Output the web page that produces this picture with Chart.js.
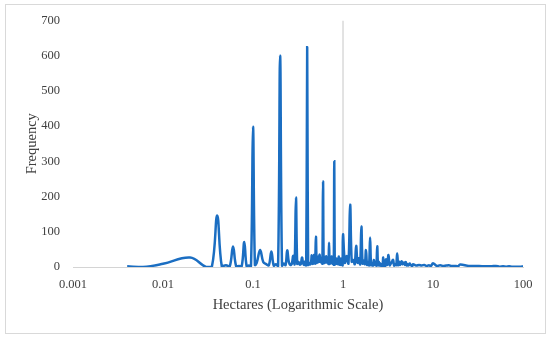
<!DOCTYPE html>
<html>
<head>
<meta charset="utf-8">
<script src="https://cdn.jsdelivr.net/npm/chart.js@4/dist/chart.umd.min.js"></script>
<style>
  html, body { margin: 0; padding: 0; background: #ffffff; }
  #frame { position: absolute; left: 5px; top: 4px; width: 539px; height: 328px; border: 1px solid #d9d9d9; }
  #c { position: absolute; left: 0; top: 0; }
</style>
</head>
<body>
<div id="frame"></div>
<canvas id="c" width="550" height="338"></canvas>
<script>
// ---- Data ----
const smallHectares = [0.004, 0.006, 0.01, 0.02, 0.03, 0.035];
const smallFrequency = [2, 0, 9, 27, 0, 2];

const fineHectares = [
  0.040,0.045,0.050,0.055,0.060,0.065,0.070,0.075,0.080,0.085,0.090,0.095,0.100,0.105
];
const fineFrequency = [
  146,2,5,1,58,2,3,3,71,2,4,3,398,6
];

const hundredthHectares = [
  0.11,0.12,0.13,0.14,0.15,0.16,0.17,0.18,0.19,
  0.20,0.21,0.22,0.23,0.24,0.25,0.26,0.27,0.28,0.29,0.30,0.31,0.32,0.33,0.34,0.35,
  0.36,0.37,0.38,0.39,0.40,0.41,0.42,0.43,0.44,0.45,0.46,0.47,0.48,0.49,0.50,0.51,
  0.52,0.53,0.54,0.55,0.56,0.57,0.58,0.59,0.60,0.61,0.62,0.63,0.64,0.65,0.66,0.67,
  0.68,0.69,0.70,0.71,0.72,0.73,0.74,0.75,0.76,0.77,0.78,0.79,0.80,0.81,0.82,0.83,
  0.84,0.85,0.86,0.87,0.88,0.89,0.90,0.91,0.92,0.93,0.94,0.95,0.96,0.97,0.98,0.99,1.00
];
const hundredthFrequency = [
  12,48,14,8,5,44,4,8,3,
  600,4,10,5,47,14,6,9,32,8,197,9,14,7,8,27,
  12,6,16,5,624,6,12,7,10,33,9,12,35,10,86,12,
  30,14,18,35,15,14,26,10,243,11,18,12,26,30,13,16,
  20,9,69,9,20,11,14,30,12,9,18,7,300,7,10,9,
  14,24,9,11,15,8,30,7,9,6,11,24,8,6,9,5,93
];

const twentiethHectares = [
  1.05,1.10,1.15,1.20,1.25,1.30,1.35,1.40,1.45,1.50,1.55,1.60,1.65,1.70,1.75,1.80,
  1.85,1.90,1.95,2.00,2.05,2.10,2.15,2.20,2.25,2.30,2.35,2.40,2.45,2.50,2.55,2.60,
  2.65,2.70,2.75,2.80,2.85,2.90,2.95,3.00
];
const twentiethFrequency = [
  12,31,10,177,15,20,8,60,12,25,8,115,10,18,8,48,
  6,15,5,84,5,10,4,20,6,10,4,59,5,15,4,10,
  3,8,4,27,3,8,3,22
];

const tenthHectares = [
  3.1,3.2,3.3,3.4,3.5,3.6,3.7,3.8,3.9,4.0,4.1,4.2,4.3,4.4,4.5,4.6,4.7,4.8,4.9,5.0,
  5.1,5.2,5.3,5.4,5.5,5.6,5.7,5.8,5.9,6.0
];
const tenthFrequency = [
  6,34,5,10,15,20,4,8,5,38,5,15,6,12,16,8,10,13,6,14,
  4,8,4,7,10,5,6,4,3,8
];

const tailHectares = [
  6.5,7,7.5,8,8.5,9,9.5,10,11,12,13,14,15,16,17,18,19,20,
  25,30,35,40,45,50,55,60,65,70,75,80,85,90,95,100
];
const tailFrequency = [
  4,6,4,6,3,5,3,11,3,5,3,4,5,3,3,3,2,7,
  3,3,2,2,2,3,1,2,1,2,1,1,1,1,1,2
];

const xTickValues = [0.001, 0.01, 0.1, 1, 10, 100];
const xTickLabels = ['0.001', '0.01', '0.1', '1', '10', '100'];
const yTickValues = [0, 100, 200, 300, 400, 500, 600, 700];

// vertical axis crossing at 1 hectare
const crossHectares = [1, 1];
const crossFrequency = [0, 700];

// ---- Build series ----
const hectares = [].concat(smallHectares, fineHectares, hundredthHectares, twentiethHectares, tenthHectares, tailHectares);
const frequency = [].concat(smallFrequency, fineFrequency, hundredthFrequency, twentiethFrequency, tenthFrequency, tailFrequency);
const points = hectares.map((h, i) => ({ x: h, y: frequency[i] }));
const crossPoints = crossHectares.map((h, i) => ({ x: h, y: crossFrequency[i] }));

const FONT = "'Liberation Serif', 'Times New Roman', serif";
const TEXT = '#404040';

new Chart(document.getElementById('c'), {
  type: 'line',
  data: {
    datasets: [
      {
        data: points,
        borderColor: '#1b6ec2',
        borderWidth: 2.5,
        pointRadius: 0,
        tension: 0.4,
        fill: false,
        order: 1
      },
      {
        data: crossPoints,
        borderColor: '#c6c6c6',
        borderWidth: 1,
        pointRadius: 0,
        tension: 0,
        fill: false,
        order: 2
      }
    ]
  },
  options: {
    responsive: false,
    devicePixelRatio: 1,
    animation: false,
    layout: { padding: { left: 0, right: 27, top: 18, bottom: 0 } },
    plugins: { legend: { display: false }, tooltip: { enabled: false } },
    scales: {
      x: {
        type: 'logarithmic',
        min: 0.001,
        max: 100,
        afterBuildTicks: (s) => { s.ticks = xTickValues.map(v => ({ value: v })); },
        afterFit: (s) => { s.height = 71; },
        grid: { display: false, drawTicks: false },
        border: { display: true, color: '#d4d4d4', width: 1 },
        ticks: {
          autoSkip: false,
          maxRotation: 0,
          padding: 10,
          color: TEXT,
          font: { family: FONT, size: 12.5 },
          callback: (v, i) => xTickLabels[i]
        },
        title: {
          display: true,
          text: 'Hectares (Logarithmic Scale)',
          color: TEXT,
          font: { family: FONT, size: 14.5 },
          padding: { top: 0, bottom: 24 }
        }
      },
      y: {
        min: 0,
        max: 700,
        afterBuildTicks: (s) => { s.ticks = yTickValues.map(v => ({ value: v })); },
        afterFit: (s) => { s.width = 73; },
        grid: { display: false, drawTicks: false },
        border: { display: false },
        ticks: {
          padding: 13,
          color: TEXT,
          font: { family: FONT, size: 12.5 }
        },
        title: {
          display: true,
          text: 'Frequency',
          color: TEXT,
          font: { family: FONT, size: 14.5 },
          padding: { top: 23, bottom: 0 }
        }
      }
    }
  }
});
</script>
</body>
</html>
